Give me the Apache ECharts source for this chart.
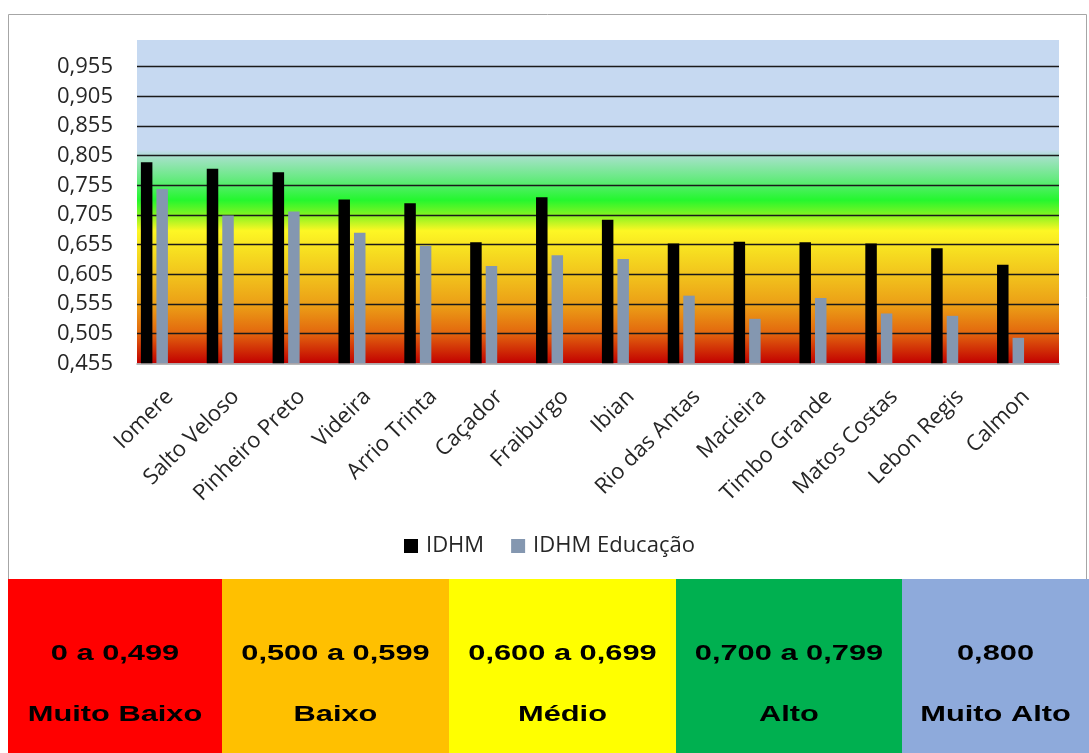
<!DOCTYPE html>
<html>
<head>
<meta charset="utf-8">
<script src="https://cdn.jsdelivr.net/npm/echarts@6/dist/echarts.min.js"></script>
<style>
html,body{margin:0;padding:0;background:#fff;}
#c{width:1089px;height:753px;}
</style>
</head>
<body>
<div id="c"></div>
<script>
const categories = ['Iomere','Salto Veloso','Pinheiro Preto','Videira','Arrio Trinta','Caçador','Fraiburgo','Ibian','Rio das Antas','Macieira','Timbo Grande','Matos Costas','Lebon Regis','Calmon'];
const idhm = [0.794,0.783,0.777,0.731,0.725,0.659,0.735,0.697,0.657,0.660,0.659,0.657,0.649,0.621];
const idhmEducacao = [0.749,0.704,0.711,0.675,0.653,0.619,0.637,0.631,0.569,0.530,0.565,0.539,0.535,0.498];
const seriesNames = ['IDHM','IDHM Educação'];
const yMin = 0.455, yMax = 1.0, yStep = 0.05;
const rangeLabels = ['0 a 0,499','0,500 a 0,599','0,600 a 0,699','0,700 a 0,799','0,800'];
const classLabels = ['Muito Baixo','Baixo','Médio','Alto','Muito Alto'];
const classColors = ['#ff0000','#ffc000','#ffff00','#00b050','#8eaadb'];

const chart = echarts.init(document.getElementById('c'));
const FONT = 'Open Sans';

const boxX = [8,222,449,676,902,1089];
const graphics = [{
  type:'rect', shape:{x:8.5,y:14.5,width:1078,height:566},
  style:{fill:'none',stroke:'#a6a6a6',lineWidth:1}, silent:true
}];
classLabels.forEach((lab,i)=>{
  const x0 = boxX[i], x1 = boxX[i+1], cx = (x0+x1)/2;
  graphics.push({type:'rect', shape:{x:x0,y:579,width:x1-x0,height:174}, style:{fill:classColors[i]}, silent:true, z:10});
  graphics.push({type:'text', x:cx, y:654, scaleX:1.4, z:11, style:{text:rangeLabels[i], fill:'#000', font:'bold 22px "Liberation Sans"', textAlign:'center', textVerticalAlign:'middle'}});
  graphics.push({type:'text', x:cx, y:715, scaleX:1.4, z:11, style:{text:lab, fill:'#000', font:'bold 22px "Liberation Sans"', textAlign:'center', textVerticalAlign:'middle'}});
});

const bg = {
  type:'linear', x:0, y:0, x2:0, y2:1,
  colorStops:[
    {offset:0, color:'#c6d9f1'},
    {offset:0.34, color:'#c6d9f1'},
    {offset:0.367, color:'#a0e2c2'},
    {offset:0.43, color:'#66ea80'},
    {offset:0.495, color:'#24f72e'},
    {offset:0.54, color:'#80f422'},
    {offset:0.59, color:'#fdf724'},
    {offset:0.66, color:'#f6dc20'},
    {offset:0.735, color:'#f1c01c'},
    {offset:0.825, color:'#eb9c16'},
    {offset:0.905, color:'#e3680e'},
    {offset:1, color:'#c20000'}
  ]
};

chart.setOption({
  animation:false,
  backgroundColor:'#ffffff',
  textStyle:{fontFamily:FONT},
  graphic:graphics,
  legend:{
    data:seriesNames, left:399, top:530, itemWidth:14, itemHeight:14, itemGap:27,
    icon:'rect',
    textStyle:{fontSize:22, color:'#262626', fontFamily:FONT, padding:[0,0,0,3]}
  },
  grid:{left:137, right:30, top:40, bottom:389.7, show:true, backgroundColor:bg, borderWidth:0},
  xAxis:{
    type:'category', data:categories,
    axisLine:{lineStyle:{color:'#a0a0a0', width:1.5}},
    axisTick:{show:false},
    axisLabel:{interval:0, rotate:45, fontSize:22, color:'#262626', margin:30, fontFamily:FONT}
  },
  yAxis:{
    type:'value', min:yMin, max:yMax, interval:yStep,
    axisLine:{show:false}, axisTick:{show:false},
    axisLabel:{fontSize:22, color:'#262626', margin:24, fontFamily:FONT, showMaxLabel:false,
      formatter:v=>v.toFixed(3).replace('.',',')},
    splitLine:{show:true, showMaxLine:false, showMinLine:false, lineStyle:{color:'#1a1a1a', width:1.3}}
  },
  series:[
    {name:seriesNames[0], type:'bar', data:idhm, barWidth:11.5, barGap:'35%', itemStyle:{color:'#000000'}},
    {name:seriesNames[1], type:'bar', data:idhmEducacao, barWidth:11.5, barGap:'35%', itemStyle:{color:'#8497b0'}},
    {name:'h1', type:'bar', data:[], barWidth:11.5, barGap:'35%'},
    {name:'h2', type:'bar', data:[], barWidth:11.5, barGap:'35%'}
  ]
});
</script>
</body>
</html>
